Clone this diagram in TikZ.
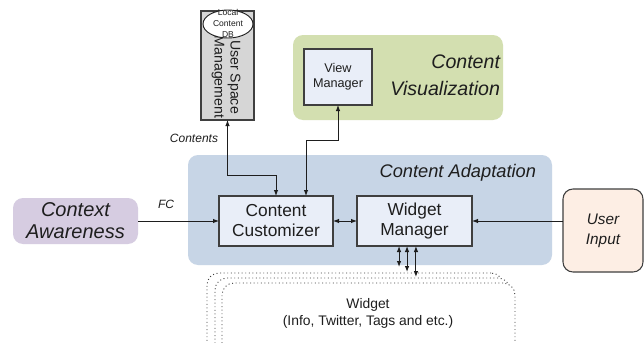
\documentclass[tikz,border=0pt]{standalone}
\usepackage{fontspec}
\setmainfont{Liberation Sans}
\usetikzlibrary{arrows.meta,calc,shapes.geometric}

\definecolor{txt}{HTML}{1E1E1E}
\definecolor{edge}{HTML}{3F3F3F}
\definecolor{boxfill}{HTML}{E9EEF8}
\definecolor{usmfill}{HTML}{D6D6D6}
\definecolor{visfill}{HTML}{D3DFB0}
\definecolor{adafill}{HTML}{C7D5E6}
\definecolor{ctxfill}{HTML}{D6CCE1}
\definecolor{uifill}{HTML}{FDEEE4}

\tikzset{
  every node/.style={text=txt, inner sep=0pt, outer sep=0pt},
  panel/.style={rounded corners=7.5pt, draw=none},
  modbox/.style={draw=edge, line width=0.8pt, fill=boxfill, align=center},
  conn/.style={draw=txt, line width=0.75pt,
    {Latex[length=4.5pt,width=3.4pt]}-{Latex[length=4.5pt,width=3.4pt]}},
  into/.style={draw=txt, line width=0.75pt, -{Latex[length=4.5pt,width=3.4pt]}},
  widgetlayer/.style={draw=edge, line width=0.7pt, dotted, fill=white,
    rounded corners=9pt},
  lbl/.style={font=\fontsize{9}{11}\selectfont\itshape},
}

\begin{document}
\begin{tikzpicture}[x=0.75pt, y=-0.75pt]
  \clip (0,0) rectangle (644,343);
  \fill[white] (0,0) rectangle (644,343);

  % ---- User space management column ----
  \node[draw=edge, line width=0.8pt, fill=usmfill,
        minimum width=39.75pt, minimum height=81.75pt] (usm) at (227.5,65.5) {};
  \node[rotate=-90, align=center, font=\fontsize{10.6}{12}\selectfont]
        (usmtxt) at (226,77) {User Space\\Management};
  \node[draw=txt, line width=0.7pt, fill=white, ellipse,
        minimum width=37.5pt, minimum height=21pt] (db) at (228,24) {};
  \node[align=center, font=\fontsize{6.4}{8}\selectfont] (dbtxt) at (228,23.5)
        {Local\\Content\\DB};

  % ---- Content visualization panel ----
  \node[panel, fill=visfill, minimum width=157.5pt, minimum height=63.75pt]
        (cv) at (398,77.5) {};
  \node[modbox, minimum width=51pt, minimum height=42pt,
        font=\fontsize{9.5}{11.25}\selectfont] (vm) at (338,77) {View\\Manager};
  \node[anchor=east, align=right, font=\fontsize{14.7}{20}\selectfont\itshape]
        (cvtxt) at (500,75.5) {Content\\Visualization};

  % ---- Content adaptation panel ----
  \node[panel, fill=adafill, minimum width=273pt, minimum height=82.5pt]
        (ca) at (370,210) {};
  \node[anchor=east, font=\fontsize{13.7}{16}\selectfont\itshape]
        (catxt) at (536,173) {Content Adaptation};
  \node[modbox, minimum width=85.5pt, minimum height=37.5pt,
        font=\fontsize{13}{15}\selectfont] (cc) at (276,221) {Content\\Customizer};
  \node[modbox, minimum width=86.25pt, minimum height=37.5pt,
        font=\fontsize{13}{15}\selectfont] (wm) at (414.5,221) {Widget\\Manager};

  % ---- Inputs ----
  \node[panel, fill=ctxfill, minimum width=93.75pt, minimum height=34.5pt,
        align=center, font=\fontsize{15}{16.5}\selectfont\itshape]
        (ctx) at (75.5,221) {Context\\Awareness};
  \node[draw=edge, line width=0.8pt, fill=uifill, rounded corners=7.5pt,
        minimum width=60pt, minimum height=62.25pt, align=center,
        font=\fontsize{11.5}{15}\selectfont\itshape]
        (ui) at (603,230.5) {User\\Input};

  % ---- Stacked widgets ----
  \node[widgetlayer, minimum width=222pt, minimum height=67.5pt] (w1) at (355,318) {};
  \node[widgetlayer, minimum width=221.25pt, minimum height=67.5pt] (w2) at (362.5,323) {};
  \node[widgetlayer, minimum width=219.75pt, minimum height=67.5pt] (w3) at (368.5,328) {};
  \node[align=center, font=\fontsize{10.4}{12.75}\selectfont] (wtxt) at (368,313.5)
        {Widget\\(Info, Twitter, Tags and etc.)};

  % ---- Connectors ----
  \coordinate (j1) at (276,175);
  \coordinate (j2) at (338,140);
  \draw[conn] (usm.south) |- (j1) -- (cc.north);
  \draw[conn] ([xshift=22.5pt]cc.north) |- (j2) -- (vm.south);
  \draw[conn] (cc.east) -- (wm.west);
  \draw[into] (ctx.east) -- (cc.west);
  \draw[into] (ui.west |- wm.east) -- (wm.east);
  \draw[conn, shorten >=4.5pt] ([xshift=-11.6pt]wm.south) -- ([xshift=-11.6pt]wm.south |- w1.north);
  \draw[conn, shorten >=4.5pt] ([xshift=-5.6pt]wm.south) -- ([xshift=-5.6pt]wm.south |- w2.north);
  \draw[conn, shorten >=4.5pt] ([xshift=1.1pt]wm.south) -- ([xshift=1.1pt]wm.south |- w3.north);

  % ---- Connector labels ----
  \node[lbl] (fclbl) at (166,204) {FC};
  \node[lbl] (contlbl) at (194,138) {Contents};
\end{tikzpicture}
\end{document}
